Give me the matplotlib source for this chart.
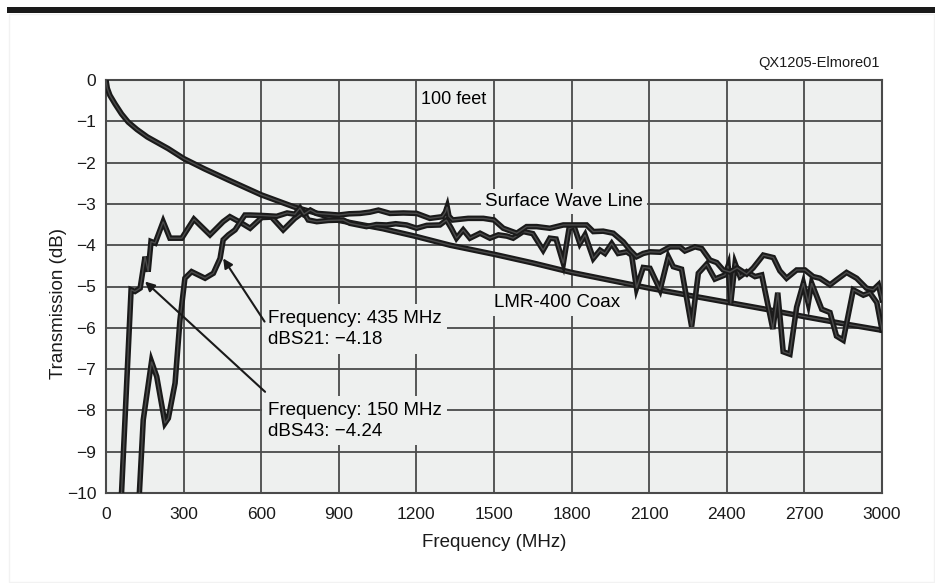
import matplotlib
matplotlib.use("Agg")
import matplotlib.pyplot as plt
import matplotlib.patheffects as pe
from matplotlib.patches import Rectangle

plt.rcParams['font.family'] = ['Liberation Sans', 'DejaVu Sans']

# LMR-400 coax, 100 feet
coax_f = [0, 5, 15, 35, 60, 86, 120, 160, 200, 240, 300, 380, 473, 600, 730, 800, 900,
          1070, 1200, 1330, 1500, 1650, 1800, 1950, 2100, 2250, 2400, 2550, 2700, 2850, 3000]
coax_db = [0, -0.2, -0.37, -0.58, -0.82, -1.02, -1.2, -1.38, -1.52, -1.66, -1.9, -2.15, -2.42,
           -2.78, -3.08, -3.2, -3.4, -3.6, -3.79, -4.0, -4.22, -4.43, -4.66, -4.85, -5.04,
           -5.21, -5.38, -5.55, -5.73, -5.9, -6.06]

# surface wave line, dBS43
s43_f = [60, 97, 112, 132, 151, 163, 174, 190, 221, 247,
         293, 340, 402, 453, 479, 520, 557, 602, 640, 685,
         730, 763, 782, 815, 860, 917, 943, 1007, 1045, 1085,
         1120, 1162, 1201, 1240, 1291, 1316, 1335, 1355, 1381, 1407,
         1446, 1484, 1517, 1550, 1574, 1613, 1650, 1690, 1716, 1740,
         1768, 1790, 1810, 1832, 1852, 1884, 1910, 1929, 1955, 1980,
         2013, 2032, 2051, 2077, 2103, 2142, 2174, 2193, 2225, 2264,
         2290, 2322, 2354, 2393, 2405, 2415, 2432, 2451, 2477, 2509,
         2535, 2578, 2597, 2618, 2644, 2670, 2696, 2715, 2728, 2767,
         2799, 2824, 2850, 2889, 2928, 2953, 2980, 3000]
s43_db = [-10, -5.08, -5.12, -5.04, -4.28, -4.64, -3.91, -3.95, -3.43, -3.83,
          -3.83, -3.37, -3.75, -3.43, -3.31, -3.45, -3.59, -3.33, -3.32, -3.63,
          -3.35, -3.2, -3.39, -3.43, -3.4, -3.39, -3.47, -3.55, -3.5, -3.51,
          -3.48, -3.51, -3.59, -3.52, -3.51, -3.39, -3.59, -3.83, -3.63, -3.83,
          -3.71, -3.83, -3.75, -3.78, -3.83, -3.67, -3.72, -4.12, -3.83, -3.85,
          -4.44, -3.6, -3.55, -3.96, -3.75, -4.32, -4.12, -4.20, -3.96, -4.20,
          -4.16, -4.24, -5.04, -4.54, -4.56, -5.08, -4.28, -4.52, -4.58, -5.97,
          -4.68, -4.46, -4.82, -4.72, -4.5, -5.41, -4.44, -4.76, -4.64, -4.76,
          -4.72, -6.03, -5.15, -6.58, -6.64, -5.5, -4.92, -5.41, -4.92, -5.55,
          -5.63, -6.2, -6.3, -5.08, -5.21, -5.15, -5.39, -6.05]

# surface wave line, dBS21
s21_f = [129, 144, 176, 196, 228, 241, 267, 286, 305, 331,
         383, 415, 441, 453, 473, 499, 524, 537, 557, 602,
         660, 700, 730, 750, 765, 790, 814, 860, 900, 940,
         982, 1020, 1053, 1098, 1150, 1201, 1252, 1300, 1312, 1319,
         1326, 1340, 1400, 1459, 1500, 1536, 1588, 1626, 1665, 1716,
         1768, 1807, 1858, 1884, 1922, 1961, 2000, 2026, 2051, 2077,
         2103, 2142, 2180, 2219, 2238, 2277, 2303, 2335, 2361, 2386,
         2412, 2440, 2477, 2502, 2541, 2580, 2605, 2631, 2670, 2702,
         2734, 2760, 2799, 2824, 2863, 2902, 2940, 2966, 2986, 3000]
s21_db = [-10, -8.23, -6.82, -7.18, -8.31, -8.19, -7.34, -5.81, -4.80, -4.64,
          -4.80, -4.68, -4.32, -3.87, -3.75, -3.63, -3.39, -3.27, -3.27, -3.28,
          -3.3, -3.22, -3.25, -3.1, -3.25, -3.15, -3.23, -3.25, -3.27, -3.24,
          -3.23, -3.2, -3.15, -3.23, -3.22, -3.23, -3.35, -3.31, -3.2, -3.07,
          -3.3, -3.39, -3.35, -3.35, -3.39, -3.59, -3.71, -3.55, -3.55, -3.59,
          -3.51, -3.51, -3.51, -3.67, -3.66, -3.71, -3.92, -4.12, -4.28, -4.20,
          -4.16, -4.17, -4.04, -4.04, -4.14, -4.04, -4.08, -4.36, -4.42, -4.60,
          -4.65, -4.55, -4.70, -4.55, -4.24, -4.30, -4.62, -4.80, -4.60, -4.60,
          -4.76, -4.80, -4.96, -4.84, -4.66, -4.80, -5.04, -5.08, -4.96, -5.32]

x_ticks = [0, 300, 600, 900, 1200, 1500, 1800, 2100, 2400, 2700, 3000]
y_ticks = [0, -1, -2, -3, -4, -5, -6, -7, -8, -9, -10]

bg = '#eef0ef'
grid_c = '#4a4a4a'
ink = '#1a1a1a'

fig = plt.figure(figsize=(9.35, 5.83), dpi=100)
# black rule across the top of the page and faint panel edge
fig.add_artist(Rectangle((7 / 935, 1 - 13 / 583), 928 / 935, 6 / 583,
                         transform=fig.transFigure, color=ink, lw=0))
fig.add_artist(Rectangle((9 / 935, 1 / 583), 925 / 935, 568 / 583, transform=fig.transFigure,
                         facecolor='none', edgecolor='#f2f2f2', lw=1))

ax = fig.add_axes([106 / 935, 1 - 493 / 583, 776 / 935, 413 / 583])
ax.set_facecolor(bg)
ax.set_xlim(0, 3000)
ax.set_ylim(-10, 0)
ax.set_xticks(x_ticks)
ax.set_yticks(y_ticks)
ax.tick_params(length=0, labelsize=12.5, colors=ink)
ax.tick_params(axis='x', pad=10)
ax.tick_params(axis='y', pad=7)
ax.grid(True, color=grid_c, lw=1.3)
ax.set_axisbelow(True)
for s in ax.spines.values():
    s.set_color(grid_c)
    s.set_linewidth(1.5)

ax.set_xlabel('Frequency (MHz)', fontsize=13.5, labelpad=9, color=ink)
ax.set_ylabel('Transmission (dB)', fontsize=13.5, color=ink)
ax.yaxis.set_label_coords(-0.05, 0.46)

# traces drawn as dark outline with lighter core
fx = [pe.Stroke(linewidth=4.0, foreground='#1a1a1a'), pe.Normal()]
for xs, ys in [(coax_f, coax_db), (s43_f, s43_db), (s21_f, s21_db)]:
    ax.plot(xs, ys, color='#4a4a4a', lw=1.0, path_effects=fx, zorder=5,
            solid_joinstyle='miter')

ax.text(1342, -0.48, '100 feet', fontsize=13, ha='center', va='center',
        bbox=dict(facecolor=bg, edgecolor='none', pad=2), zorder=4)
ax.text(1772, -2.95, 'Surface Wave Line', fontsize=13.5, ha='center', va='center',
        bbox=dict(facecolor=bg, edgecolor='none', pad=3), zorder=4)
ax.text(1743, -5.38, 'LMR-400 Coax', fontsize=13.5, ha='center', va='center',
        bbox=dict(facecolor=bg, edgecolor='none', pad=4), zorder=4)

ax.text(626, -6.03, 'Frequency: 435 MHz\ndBS21: \u22124.18', fontsize=13.5, ha='left', va='center',
        linespacing=1.3, bbox=dict(facecolor=bg, edgecolor='none', pad=4), zorder=4)
ax.text(626, -8.25, 'Frequency: 150 MHz\ndBS43: \u22124.24', fontsize=13.5, ha='left', va='center',
        linespacing=1.3, bbox=dict(facecolor=bg, edgecolor='none', pad=4), zorder=4)

arrow = dict(arrowstyle='-|>', color=ink, lw=1.5, mutation_scale=14, shrinkA=0, shrinkB=0)
ax.annotate('', xy=(453, -4.32), xytext=(613, -5.85), arrowprops=arrow, zorder=6)
ax.annotate('', xy=(151, -4.88), xytext=(615, -7.55), arrowprops=arrow, zorder=6)

fig.text(880 / 935, 1 - 63 / 583, 'QX1205-Elmore01', fontsize=10.5, ha='right', va='center',
         color=ink)

fig.savefig('out.png', dpi=100, facecolor='white')
